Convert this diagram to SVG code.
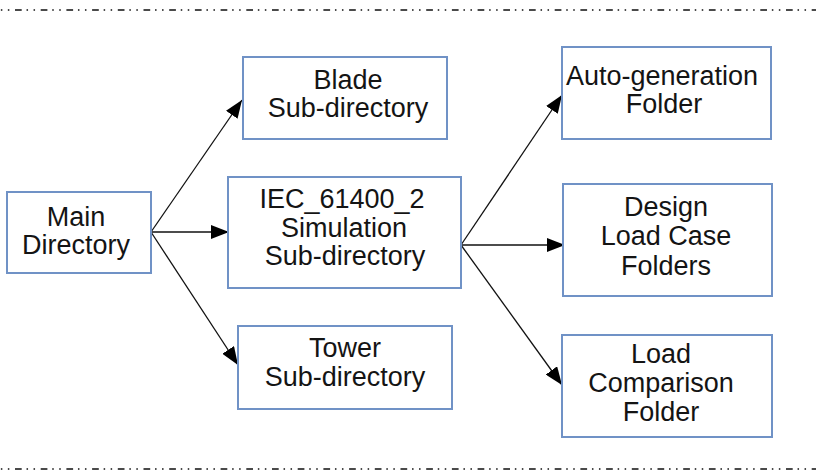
<svg xmlns="http://www.w3.org/2000/svg" width="816" height="472" viewBox="0 0 816 472">
  <defs>
    <style>
      .box { fill: #ffffff; stroke: #7092c6; stroke-width: 2; }
      .lbl { font-family: "Liberation Sans", Arial, sans-serif; font-size: 27px; fill: #141414; text-anchor: middle; }
      .edge { fill: none; stroke: #111111; stroke-width: 1.3; }
      .rule { fill: none; stroke: #4a4a4a; stroke-width: 2; stroke-dasharray: 6.7 4.85 1.5 5.5 1.5 5.65; }
    </style>
    <marker id="arrow" markerUnits="userSpaceOnUse" markerWidth="19" markerHeight="14" refX="18" refY="7" orient="auto">
      <path d="M0,0 L18,7 L0,14 Z" fill="#000000"/>
    </marker>
  </defs>

  <rect width="816" height="472" fill="#ffffff"/>

  <!-- dash-dot-dot frame rules -->
  <line class="rule" x1="-10.7" y1="10" x2="816" y2="10"/>
  <line class="rule" x1="-10.7" y1="469" x2="816" y2="469"/>

  <!-- connectors -->
  <g id="connectors">
    <line class="edge" x1="151" y1="232" x2="242" y2="100" marker-end="url(#arrow)"/>
    <line class="edge" x1="151" y1="232" x2="229" y2="232" marker-end="url(#arrow)"/>
    <line class="edge" x1="151" y1="232" x2="238" y2="365" marker-end="url(#arrow)"/>
    <line class="edge" x1="461" y1="245" x2="562" y2="95" marker-end="url(#arrow)"/>
    <line class="edge" x1="461" y1="245" x2="565" y2="245" marker-end="url(#arrow)"/>
    <line class="edge" x1="461" y1="245" x2="562" y2="385" marker-end="url(#arrow)"/>
  </g>

  <g id="main-directory">
    <rect class="box" x="7" y="192" width="144" height="81"/>
    <text class="lbl" x="76" y="225.5">Main</text>
    <text class="lbl" x="76" y="254">Directory</text>
  </g>

  <g id="blade-subdirectory">
    <rect class="box" x="243" y="57" width="204" height="82"/>
    <text class="lbl" x="348" y="89">Blade</text>
    <text class="lbl" x="348" y="117">Sub-directory</text>
  </g>

  <g id="iec-simulation-subdirectory">
    <rect class="box" x="228" y="177" width="233" height="111"/>
    <text class="lbl" x="342" y="208">IEC_61400_2</text>
    <text class="lbl" x="344" y="237">Simulation</text>
    <text class="lbl" x="345" y="265">Sub-directory</text>
  </g>

  <g id="tower-subdirectory">
    <rect class="box" x="238" y="326" width="214" height="83"/>
    <text class="lbl" x="345" y="357">Tower</text>
    <text class="lbl" x="345" y="385.5">Sub-directory</text>
  </g>

  <g id="auto-generation-folder">
    <rect class="box" x="562" y="47" width="209" height="92"/>
    <text class="lbl" x="662" y="85">Auto-generation</text>
    <text class="lbl" x="664" y="113">Folder</text>
  </g>

  <g id="design-load-case-folders">
    <rect class="box" x="563" y="184" width="209" height="112"/>
    <text class="lbl" x="666" y="216">Design</text>
    <text class="lbl" x="666" y="245">Load Case</text>
    <text class="lbl" x="666" y="275">Folders</text>
  </g>

  <g id="load-comparison-folder">
    <rect class="box" x="562" y="335" width="210" height="102"/>
    <text class="lbl" x="661" y="363">Load</text>
    <text class="lbl" x="661" y="392">Comparison</text>
    <text class="lbl" x="661" y="421">Folder</text>
  </g>
</svg>
